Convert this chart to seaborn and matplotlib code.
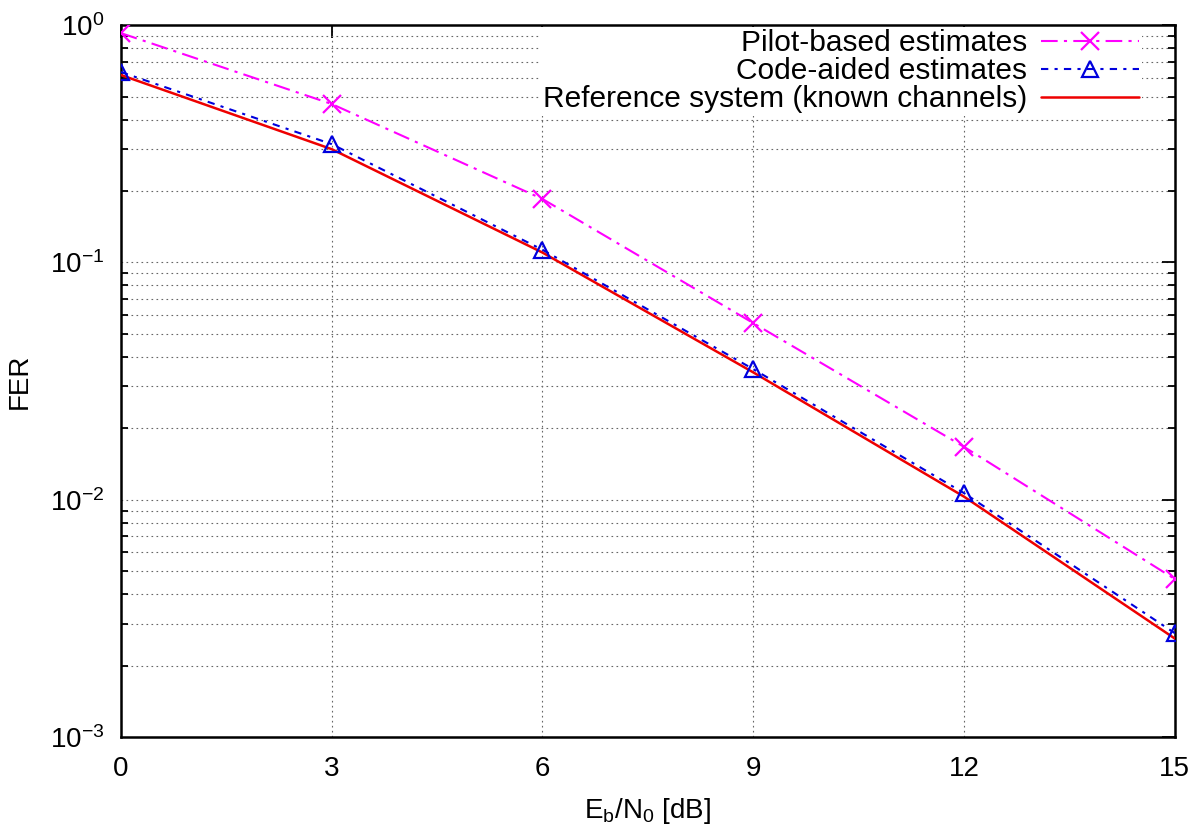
import numpy as np
import pandas as pd
import matplotlib
matplotlib.use("Agg")
import matplotlib.pyplot as plt
import matplotlib.ticker as mticker
import seaborn as sns

ebn0 = [0, 3, 6, 9, 12, 15]
pilot_fer = [0.925, 0.465, 0.185, 0.0555, 0.0167, 0.00463]
code_fer = [0.634, 0.315, 0.113, 0.0355, 0.01066, 0.00274]
ref_fer = [0.616, 0.300, 0.110, 0.0344, 0.0103, 0.0026]
labels = ["Pilot-based estimates", "Code-aided estimates",
          "Reference system (known channels)"]
xticks = [0, 3, 6, 9, 12, 15]

sns.set_style("white")
plt.rcParams['font.family'] = ['Liberation Sans', 'DejaVu Sans']
plt.rcParams['mathtext.default'] = 'regular'
plt.rcParams['mathtext.fontset'] = 'custom'
plt.rcParams['mathtext.rm'] = 'Liberation Sans'
plt.rcParams['mathtext.it'] = 'Liberation Sans'
plt.rcParams['text.color'] = 'black'
plt.rcParams['axes.labelcolor'] = 'black'
plt.rcParams['xtick.color'] = 'black'
plt.rcParams['ytick.color'] = 'black'

fig = plt.figure(figsize=(12, 8.36), dpi=100)
ax = fig.add_axes([0.1008, 0.1184, 0.979 - 0.1008, 0.970 - 0.1184])

df = pd.DataFrame({"x": ebn0, "pilot": pilot_fer, "code": code_fer, "ref": ref_fer})

sns.lineplot(data=df, x="x", y="pilot", ax=ax, color="#ff00ff", lw=1.5,
             linestyle=(0, (8, 3, 1.5, 3)), marker="x", markersize=13,
             markeredgewidth=1.6, markeredgecolor="#ff00ff",
             label=labels[0], zorder=4)
sns.lineplot(data=df, x="x", y="code", ax=ax, color="#0000dd", lw=1.5,
             linestyle=(0, (3.5, 3, 1.5, 3)), marker="^", markersize=11,
             fillstyle="none", markeredgewidth=1.6, markerfacecolor="none",
             markeredgecolor="#0000dd", label=labels[1], zorder=4)
sns.lineplot(data=df, x="x", y="ref", ax=ax, color="#ee0000", lw=1.8,
             linestyle="-", label=labels[2], zorder=3)

ax.set_yscale("log")
ax.set_xlim(0, 15)
ax.set_ylim(1e-3, 1)
ax.set_xticks(xticks)
ax.set_xticklabels([str(t) for t in xticks])
ax.yaxis.set_major_locator(mticker.LogLocator(base=10, numticks=10))
ax.yaxis.set_minor_locator(mticker.LogLocator(base=10, subs=np.arange(2, 10), numticks=20))
ax.yaxis.set_minor_formatter(mticker.NullFormatter())
ax.yaxis.set_major_formatter(mticker.FuncFormatter(
    lambda v, p: r"$10^{%d}$" % int(round(np.log10(v)))))

ax.grid(True, which="major", axis="x", color="#666666", linestyle=(0, (1.5, 3)), lw=0.8)
ax.grid(True, which="both", axis="y", color="#666666", linestyle=(0, (1.5, 3)), lw=0.8)

ax.tick_params(axis="both", which="major", direction="in", length=9.5, width=1.3,
               labelsize=20, top=True, right=True)
ax.tick_params(axis="x", which="major", pad=14)
ax.tick_params(axis="y", which="major", pad=12)
ax.tick_params(axis="y", which="minor", direction="in", length=5, width=1.3,
               right=True, left=True)
ax.tick_params(axis="x", which="minor", bottom=False, top=False)
for s in ax.spines.values():
    s.set_linewidth(1.8)
    s.set_color("black")

ax.set_xlabel(r"$E_b/N_0$ [dB]", fontsize=20, labelpad=10)
ax.set_ylabel("FER", fontsize=20, labelpad=12)

leg = ax.legend(loc="upper right", markerfirst=False, fontsize=21.5, frameon=True,
                facecolor="white", edgecolor="none", framealpha=1, fancybox=False,
                handlelength=3.3, handletextpad=0.45, labelspacing=0.0,
                borderpad=0.1, borderaxespad=0.0, bbox_to_anchor=(0.969, 0.998))
for t in leg.get_texts():
    t.set_ha("right")
leg._legend_box.align = "right"
leg.set_zorder(5)

fig.savefig("out.png", dpi=100)
